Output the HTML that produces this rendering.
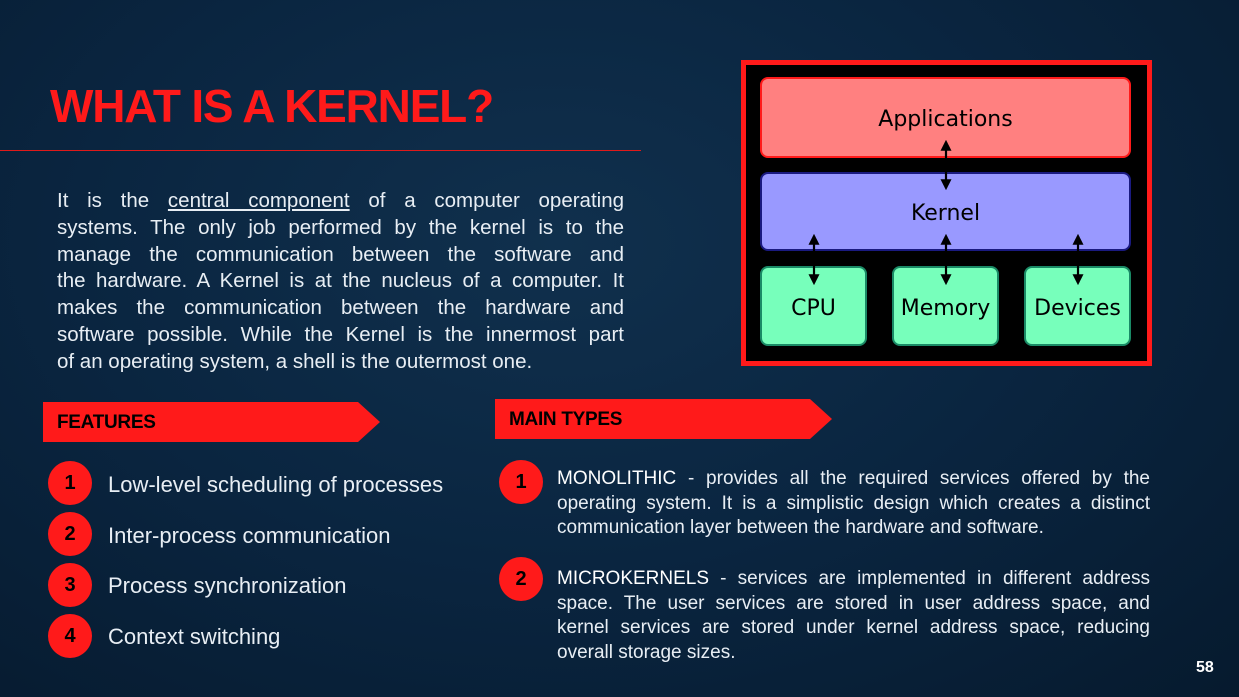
<!DOCTYPE html>
<html><head><meta charset="utf-8"><style>
*{margin:0;padding:0;box-sizing:border-box}
body{width:1239px;height:697px;overflow:hidden;position:relative;font-family:"Liberation Sans",sans-serif;background:radial-gradient(ellipse at 45% 35%,#10304d 0%,#0a2540 50%,#061a2e 100%);color:#eef2f6}
.abs{position:absolute}
h1{position:absolute;left:50px;top:79px;font-size:46px;font-weight:bold;color:#ff1a1a;letter-spacing:-1.2px;white-space:nowrap}
.line{left:0;top:150px;width:641px;height:1px;background:#e01a1a}
.para{left:57px;top:188px;width:567px;font-size:20.5px;line-height:26.8px;color:#e8eef4}
.j{text-align:justify;text-align-last:justify;white-space:nowrap}
.l{white-space:nowrap}
.diag{left:741px;top:60px;width:411px;height:306px;background:#000;border:5px solid #ff1a1a}
.box{position:absolute;border-radius:8px;color:#000;font-family:"DejaVu Sans",sans-serif;display:flex;align-items:center;justify-content:center;font-size:22px}
.ban{height:40px;background:#ff1a1a;clip-path:polygon(0 0,calc(100% - 22px) 0,100% 50%,calc(100% - 22px) 100%,0 100%);color:#000;font-weight:bold;font-size:19px;padding-left:14px;line-height:42px;letter-spacing:-0.3px}
.c{width:44px;height:44px;border-radius:50%;background:#ff1a1a;color:#000;font-weight:bold;font-size:20px;text-align:center;line-height:44px}
.ft{font-size:22px;color:#e8eef4}
.mt{left:557px;width:593px;font-size:19px;line-height:24.6px;color:#e8eef4}
</style></head><body>
<h1>WHAT IS A KERNEL?</h1>
<div class="abs line"></div>
<div class="abs para">
<div class="j">It is the <u>central component</u> of a computer operating</div>
<div class="j">systems. The only job performed by the kernel is to the</div>
<div class="j">manage the communication between the software and</div>
<div class="j">the hardware. A Kernel is at the nucleus of a computer. It</div>
<div class="j">makes the communication between the hardware and</div>
<div class="j">software possible. While the Kernel is the innermost part</div>
<div class="l">of an operating system, a shell is the outermost one.</div>
</div>

<div class="abs diag"></div>
<div class="box" style="left:760px;top:77px;width:371px;height:81px;background:#ff8080;border:2px solid #ff1a1a;padding-top:4px">Applications</div>
<div class="box" style="left:760px;top:172px;width:371px;height:79px;background:#9999ff;border:2px solid #1a1a80;padding-top:4px">Kernel</div>
<div class="box" style="left:760px;top:266px;width:107px;height:80px;background:#77ffbb;border:2px solid #1a8a66;padding-top:4px">CPU</div>
<div class="box" style="left:892px;top:266px;width:107px;height:80px;background:#77ffbb;border:2px solid #1a8a66;padding-top:4px">Memory</div>
<div class="box" style="left:1024px;top:266px;width:107px;height:80px;background:#77ffbb;border:2px solid #1a8a66;padding-top:4px">Devices</div>
<svg class="abs" style="left:0;top:0" width="1239" height="697">
<defs><marker id="a" viewBox="0 0 10 10" refX="8" refY="5" markerWidth="5" markerHeight="5" orient="auto-start-reverse"><path d="M0,0L10,5L0,10z" fill="#000"/></marker></defs>
<g stroke="#000" stroke-width="2.2" marker-start="url(#a)" marker-end="url(#a)">
<line x1="946" y1="142" x2="946" y2="188"/>
<line x1="814" y1="236" x2="814" y2="283"/>
<line x1="946" y1="236" x2="946" y2="283"/>
<line x1="1078" y1="236" x2="1078" y2="283"/>
</g></svg>

<div class="abs ban" style="left:43px;top:402px;width:337px">FEATURES</div>
<div class="abs ban" style="left:495px;top:399px;width:337px">MAIN TYPES</div>

<div class="abs c" style="left:48px;top:461px">1</div>
<div class="abs c" style="left:48px;top:512px">2</div>
<div class="abs c" style="left:48px;top:563px">3</div>
<div class="abs c" style="left:48px;top:614px">4</div>
<div class="abs ft" style="left:108px;top:472px">Low-level scheduling of processes</div>
<div class="abs ft" style="left:108px;top:523px">Inter-process communication</div>
<div class="abs ft" style="left:108px;top:573px">Process synchronization</div>
<div class="abs ft" style="left:108px;top:624px">Context switching</div>

<div class="abs c" style="left:499px;top:460px">1</div>
<div class="abs c" style="left:499px;top:557px">2</div>
<div class="abs mt" style="top:467px">
<div class="j"><span style="color:#fff">MONOLITHIC</span> - provides all the required services offered by the</div>
<div class="j">operating system. It is a simplistic design which creates a distinct</div>
<div class="l">communication layer between the hardware and software.</div>
</div>
<div class="abs mt" style="top:567px">
<div class="j"><span style="color:#fff">MICROKERNELS</span> - services are implemented in different address</div>
<div class="j">space. The user services are stored in user address space, and</div>
<div class="j">kernel services are stored under kernel address space, reducing</div>
<div class="l">overall storage sizes.</div>
</div>

<div class="abs" style="left:1196px;top:659px;font-size:16px;font-weight:bold;color:#fff">58</div>
</body></html>
